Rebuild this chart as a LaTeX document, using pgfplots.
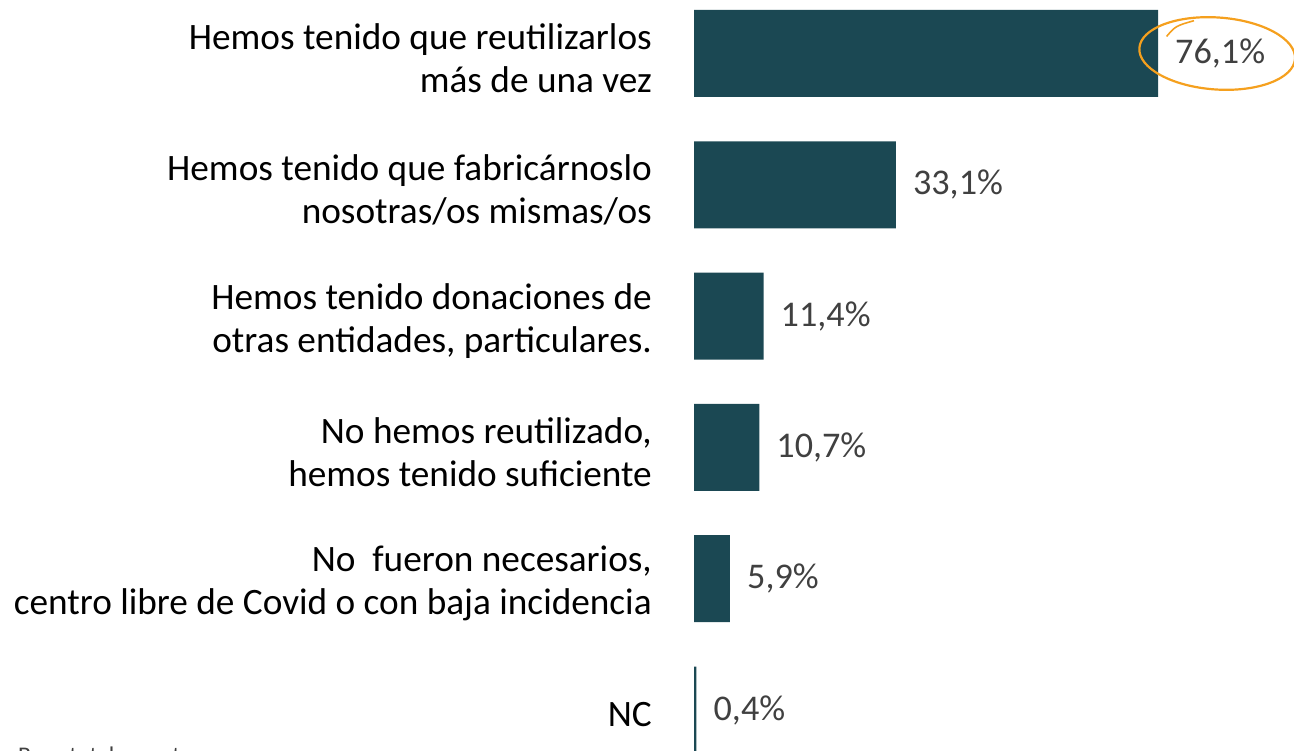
\documentclass[border=0pt]{standalone}
\usepackage{pgfplots}
\pgfplotsset{compat=1.18}
\usepackage{fontspec}
\setmainfont{Carlito}
\definecolor{barcol}{RGB}{27,72,83}
\definecolor{valcol}{RGB}{64,64,64}
\definecolor{orangec}{RGB}{245,160,30}
\begin{document}
\begin{tikzpicture}[x=1bp,y=1bp]
\useasboundingbox (0,0) rectangle (1294,751);
\begin{axis}[
  at={(694bp,0bp)}, anchor=south west,
  scale only axis, width=600bp, height=751bp,
  xbar, bar width=87bp,
  xmin=0, xmax=98.4,
  ymin=-0.4075, ymax=5.312, y dir=reverse,
  axis line style={draw=none},
  xtick=\empty,
  ytick={0,1,2,3,4,5},
  yticklabels={{Hemos tenido que reutilizarlos\\más de una vez},
               {Hemos tenido que fabricárnoslo\\nosotras/os mismas/os},
               {Hemos tenido donaciones de\\otras entidades, particulares.},
               {No hemos reutilizado,\\hemos tenido suficiente},
               {No\ \ fueron necesarios,\\centro libre de Covid o con baja incidencia},
               {NC}},
  major tick length=0pt,
  tick style={draw=none},
  yticklabel style={align=right, anchor=east, inner sep=0pt, xshift=-42bp, yshift=-5bp,
     font=\fontsize{37.4}{43}\selectfont, text=black},
  nodes near coords={\pgfmathprintnumber[use comma,fixed,fixed zerofill,precision=1,assume math mode=true]{\pgfplotspointmeta}\%},
  nodes near coords style={anchor=west, inner sep=0pt, xshift=17bp, text=valcol,
     font=\fontsize{36.3}{43}\selectfont},
  point meta=explicit,
  clip=false,
]
\addplot[fill=barcol, draw=none] coordinates {
 (76.1,0) [76.1]
 (33.1,1) [33.1]
 (11.4,2) [11.4]
 (10.7,3) [10.7]
 (5.9,4) [5.9]
 (0.4,5) [0.4]
};
\draw[orangec, line width=2.2bp, rotate around={-4:(axis cs:85.8,0.0)}] (axis cs:85.8,0.0) ellipse [x radius=78bp, y radius=36bp];
\draw[orangec, line width=1.6bp] (axis cs:77.5,-0.13) .. controls (axis cs:79,-0.21) .. (axis cs:82,-0.25);
\end{axis}
\node[anchor=north west, inner sep=0pt, font=\fontsize{24}{28}\selectfont, text=valcol] at (18,4) {Base total muestra};
\end{tikzpicture}
\end{document}
